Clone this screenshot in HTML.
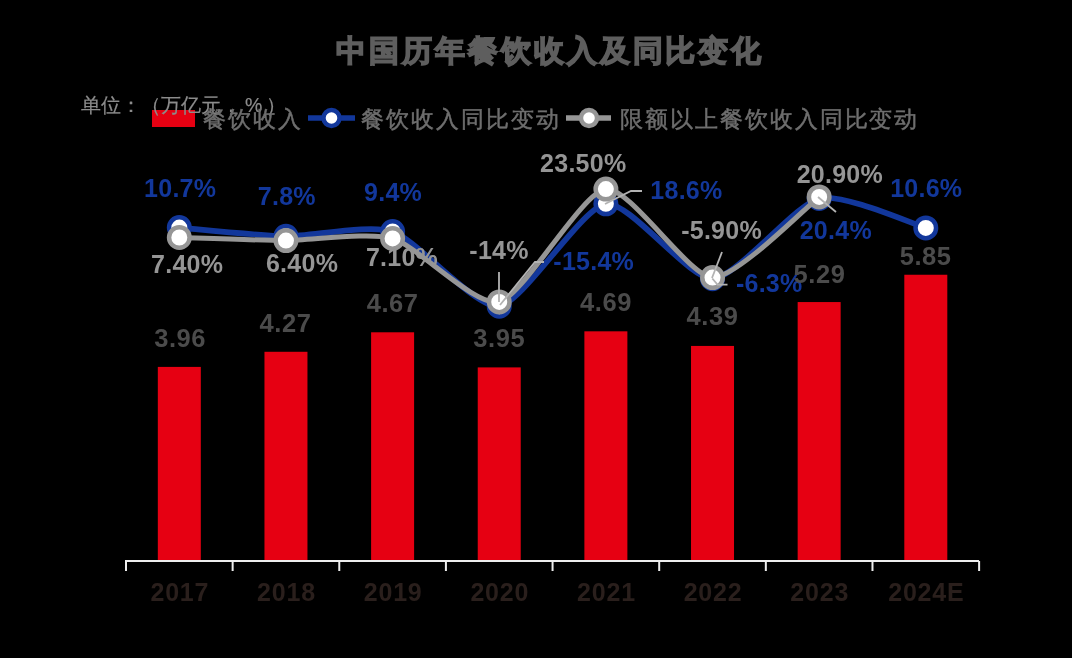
<!DOCTYPE html>
<html><head><meta charset="utf-8"><style>
html,body{margin:0;padding:0;background:#000;width:1072px;height:658px;overflow:hidden}
body{position:relative;font-family:"Liberation Sans",sans-serif}
svg{position:absolute;left:0;top:0;will-change:transform}
.t{will-change:transform}
.n{font-family:"Liberation Sans",sans-serif;font-weight:bold;font-size:25px}
.t{position:absolute;white-space:nowrap;line-height:1}
</style></head><body>
<svg width="1072" height="658" viewBox="0 0 1072 658">
<rect x="157.82" y="366.91" width="43" height="193.09" fill="#e60012"/>
<rect x="264.46" y="351.79" width="43" height="208.21" fill="#e60012"/>
<rect x="371.10" y="332.29" width="43" height="227.71" fill="#e60012"/>
<rect x="477.74" y="367.40" width="43" height="192.60" fill="#e60012"/>
<rect x="584.38" y="331.32" width="43" height="228.68" fill="#e60012"/>
<rect x="691.02" y="345.94" width="43" height="214.06" fill="#e60012"/>
<rect x="797.66" y="302.06" width="43" height="257.94" fill="#e60012"/>
<rect x="904.30" y="274.75" width="43" height="285.25" fill="#e60012"/>
<path d="M126,561 H979.1 M126,560 V571 M232.64,561 V571 M339.28,561 V571 M445.92,561 V571 M552.56,561 V571 M659.20,561 V571 M765.84,561 V571 M872.48,561 V571 M979.12,561 V571" stroke="#eeeeee" stroke-width="2" fill="none"/>
<path d="M179.32,227.59 C191.17,228.56 262.26,235.89 285.96,236.32 C309.66,236.76 368.90,223.75 392.60,231.51 C416.30,239.27 475.54,309.23 499.24,306.15 C522.94,303.08 582.18,206.86 605.88,203.81 C629.58,200.77 688.82,279.37 712.52,278.76 C736.22,278.16 795.46,204.05 819.16,198.40 C842.86,192.74 913.95,224.62 925.80,227.89" stroke="#12379b" stroke-width="5.7" fill="none" stroke-linejoin="round"/>
<circle cx="179.32" cy="227.59" r="10.25" fill="#fff" stroke="#12379b" stroke-width="4.5"/>
<circle cx="285.96" cy="236.32" r="10.25" fill="#fff" stroke="#12379b" stroke-width="4.5"/>
<circle cx="392.60" cy="231.51" r="10.25" fill="#fff" stroke="#12379b" stroke-width="4.5"/>
<circle cx="499.24" cy="306.15" r="10.25" fill="#fff" stroke="#12379b" stroke-width="4.5"/>
<circle cx="605.88" cy="203.81" r="10.25" fill="#fff" stroke="#12379b" stroke-width="4.5"/>
<circle cx="712.52" cy="278.76" r="10.25" fill="#fff" stroke="#12379b" stroke-width="4.5"/>
<circle cx="819.16" cy="198.40" r="10.25" fill="#fff" stroke="#12379b" stroke-width="4.5"/>
<circle cx="925.80" cy="227.89" r="10.25" fill="#fff" stroke="#12379b" stroke-width="4.5"/>
<path d="M179.32,237.53 C191.17,237.86 262.26,240.44 285.96,240.54 C309.66,240.64 368.90,231.61 392.60,238.43 C416.30,245.25 475.54,307.42 499.24,301.94 C522.94,296.46 582.18,191.77 605.88,189.06 C629.58,186.36 688.82,276.69 712.52,277.56 C736.22,278.43 807.31,205.85 819.16,196.89" stroke="#969696" stroke-width="5" fill="none" stroke-linejoin="round"/>
<circle cx="179.32" cy="237.53" r="10.25" fill="#fff" stroke="#969696" stroke-width="4.5"/>
<circle cx="285.96" cy="240.54" r="10.25" fill="#fff" stroke="#969696" stroke-width="4.5"/>
<circle cx="392.60" cy="238.43" r="10.25" fill="#fff" stroke="#969696" stroke-width="4.5"/>
<circle cx="499.24" cy="301.94" r="10.25" fill="#fff" stroke="#969696" stroke-width="4.5"/>
<circle cx="605.88" cy="189.06" r="10.25" fill="#fff" stroke="#969696" stroke-width="4.5"/>
<circle cx="712.52" cy="277.56" r="10.25" fill="#fff" stroke="#969696" stroke-width="4.5"/>
<circle cx="819.16" cy="196.89" r="10.25" fill="#fff" stroke="#969696" stroke-width="4.5"/>
<path d="M499,272 V302" stroke="#b3b3b3" stroke-width="1.8" fill="none"/>
<path d="M544,262 H535 L500,305" stroke="#b3b3b3" stroke-width="1.8" fill="none"/>
<path d="M642,191 H631 L605,204" stroke="#b3b3b3" stroke-width="1.8" fill="none"/>
<path d="M722,252 L712,278" stroke="#b3b3b3" stroke-width="1.8" fill="none"/>
<path d="M712.3,278.5 L717.5,284.7 H727.5" stroke="#b3b3b3" stroke-width="1.8" fill="none"/>
<path d="M818,197 L836,212" stroke="#b3b3b3" stroke-width="1.8" fill="none"/>
<text x="180.15" y="197.00" fill="#12379b" text-anchor="middle" class="n" style="letter-spacing:0.25px">10.7%</text>
<text x="286.85" y="205.30" fill="#12379b" text-anchor="middle" class="n" style="letter-spacing:0.25px">7.8%</text>
<text x="393.05" y="200.80" fill="#12379b" text-anchor="middle" class="n" style="letter-spacing:0.25px">9.4%</text>
<text x="593.70" y="269.80" fill="#12379b" text-anchor="middle" class="n" style="letter-spacing:0.25px">-15.4%</text>
<text x="686.40" y="198.70" fill="#12379b" text-anchor="middle" class="n" style="letter-spacing:0.25px">18.6%</text>
<text x="769.20" y="292.30" fill="#12379b" text-anchor="middle" class="n" style="letter-spacing:0.25px">-6.3%</text>
<text x="835.80" y="238.90" fill="#12379b" text-anchor="middle" class="n" style="letter-spacing:0.25px">20.4%</text>
<text x="926.20" y="196.70" fill="#12379b" text-anchor="middle" class="n" style="letter-spacing:0.25px">10.6%</text>
<text x="187.15" y="272.50" fill="#959595" text-anchor="middle" class="n" style="letter-spacing:0.25px">7.40%</text>
<text x="302.05" y="272.00" fill="#959595" text-anchor="middle" class="n" style="letter-spacing:0.25px">6.40%</text>
<text x="401.95" y="266.40" fill="#959595" text-anchor="middle" class="n" style="letter-spacing:0.25px">7.10%</text>
<text x="499.05" y="259.10" fill="#959595" text-anchor="middle" class="n" style="letter-spacing:0.25px">-14%</text>
<text x="583.25" y="171.90" fill="#959595" text-anchor="middle" class="n" style="letter-spacing:0.25px">23.50%</text>
<text x="721.55" y="238.80" fill="#959595" text-anchor="middle" class="n" style="letter-spacing:0.25px">-5.90%</text>
<text x="839.85" y="183.40" fill="#959595" text-anchor="middle" class="n" style="letter-spacing:0.25px">20.90%</text>
<text x="180.15" y="347.40" fill="#4b4b4b" text-anchor="middle" class="n" style="font-size:25.5px;letter-spacing:0.6px">3.96</text>
<text x="285.60" y="332.00" fill="#4b4b4b" text-anchor="middle" class="n" style="font-size:25.5px;letter-spacing:0.6px">4.27</text>
<text x="392.65" y="312.20" fill="#4b4b4b" text-anchor="middle" class="n" style="font-size:25.5px;letter-spacing:0.6px">4.67</text>
<text x="499.20" y="347.00" fill="#4b4b4b" text-anchor="middle" class="n" style="font-size:25.5px;letter-spacing:0.6px">3.95</text>
<text x="606.10" y="310.50" fill="#4b4b4b" text-anchor="middle" class="n" style="font-size:25.5px;letter-spacing:0.6px">4.69</text>
<text x="712.50" y="325.30" fill="#4b4b4b" text-anchor="middle" class="n" style="font-size:25.5px;letter-spacing:0.6px">4.39</text>
<text x="819.55" y="282.60" fill="#4b4b4b" text-anchor="middle" class="n" style="font-size:25.5px;letter-spacing:0.6px">5.29</text>
<text x="925.65" y="265.10" fill="#4b4b4b" text-anchor="middle" class="n" style="font-size:25.5px;letter-spacing:0.6px">5.85</text>
<text x="179.87" y="601.00" fill="#2a1f1c" text-anchor="middle" class="n" style="letter-spacing:0.8px">2017</text>
<text x="286.51" y="601.00" fill="#2a1f1c" text-anchor="middle" class="n" style="letter-spacing:0.8px">2018</text>
<text x="393.15" y="601.00" fill="#2a1f1c" text-anchor="middle" class="n" style="letter-spacing:0.8px">2019</text>
<text x="499.79" y="601.00" fill="#2a1f1c" text-anchor="middle" class="n" style="letter-spacing:0.8px">2020</text>
<text x="606.43" y="601.00" fill="#2a1f1c" text-anchor="middle" class="n" style="letter-spacing:0.8px">2021</text>
<text x="713.07" y="601.00" fill="#2a1f1c" text-anchor="middle" class="n" style="letter-spacing:0.8px">2022</text>
<text x="819.71" y="601.00" fill="#2a1f1c" text-anchor="middle" class="n" style="letter-spacing:0.8px">2023</text>
<text x="926.35" y="601.00" fill="#2a1f1c" text-anchor="middle" class="n" style="letter-spacing:0.8px">2024E</text>
<rect x="152" y="110" width="43" height="17" fill="#e60012"/>
<path d="M308,118 H355" stroke="#12379b" stroke-width="5.6"/>
<circle cx="331.5" cy="118" r="8" fill="#fff" stroke="#12379b" stroke-width="4.4"/>
<path d="M566,118 H611" stroke="#969696" stroke-width="5.6"/>
<circle cx="589" cy="118" r="8" fill="#fff" stroke="#969696" stroke-width="4.4"/>
</svg>
<div class="t" style="left:336px;top:35.5px;font-size:29.5px;letter-spacing:2.95px;color:#5e5e5e;-webkit-text-stroke:2.5px #5e5e5e">中国历年餐饮收入及同比变化</div>
<div class="t" style="left:81px;top:95.5px;font-size:19.5px;color:#8c8c8c;-webkit-text-stroke:0.2px #8c8c8c">单位：（万亿元，<span style="margin-left:4px">%</span><span style="margin-left:4px">）</span></div>
<div class="t" style="left:203px;top:108px;font-size:23px;letter-spacing:1.95px;color:#6e6e6e;-webkit-text-stroke:0.45px #6e6e6e">餐饮收入</div>
<div class="t" style="left:361px;top:108px;font-size:23px;letter-spacing:1.95px;color:#6e6e6e;-webkit-text-stroke:0.45px #6e6e6e">餐饮收入同比变动</div>
<div class="t" style="left:620px;top:108px;font-size:23px;letter-spacing:1.95px;color:#6e6e6e;-webkit-text-stroke:0.45px #6e6e6e">限额以上餐饮收入同比变动</div>
</body></html>
